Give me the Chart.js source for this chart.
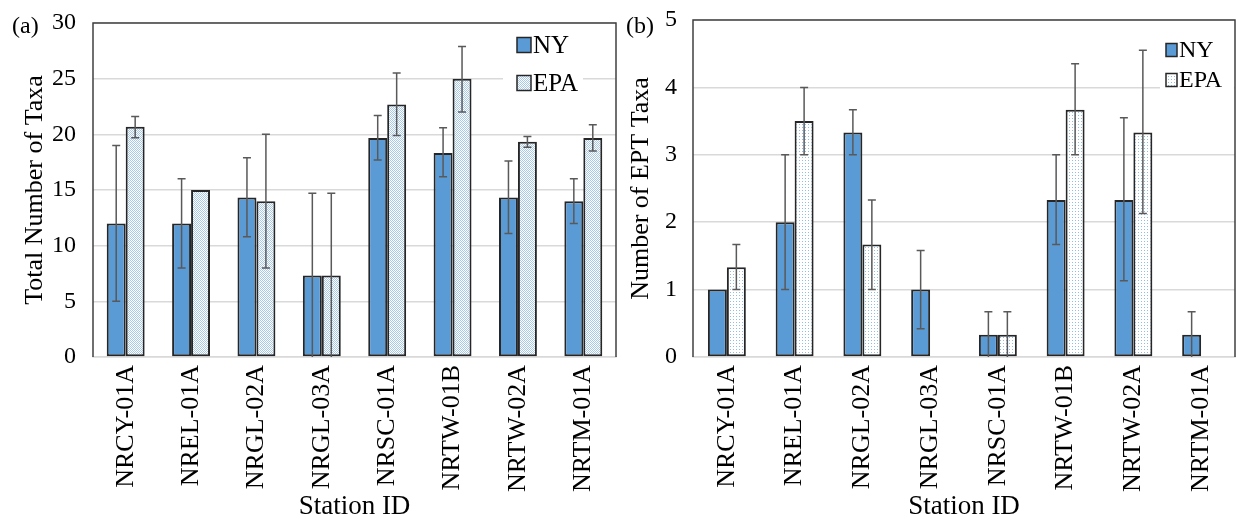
<!DOCTYPE html>
<html>
<head>
<meta charset="utf-8">
<script src="https://cdn.jsdelivr.net/npm/chart.js@4.4.0/dist/chart.umd.min.js"></script>
<style>
  html, body { margin: 0; padding: 0; background: #fff; }
  #wrap { position: relative; width: 1236px; height: 523px; overflow: hidden; }
  .box { position: absolute; top: 0; width: 618px; height: 523px; }
  #boxA { left: 0; }
  #boxB { left: 618px; }
  .tag { position: absolute; top: 13px; font: 24px/24px 'Liberation Serif', 'Times New Roman', serif; color: #000; }
</style>
</head>
<body>
<div id="wrap">
  <div class="box" id="boxA"><canvas id="chartA"></canvas></div>
  <div class="box" id="boxB"><canvas id="chartB"></canvas></div>
  <div class="tag" style="left:12px">(a)</div>
  <div class="tag" style="left:626px">(b)</div>
</div>
<script>
const stations = ['NRCY-01A', 'NREL-01A', 'NRGL-02A', 'NRGL-03A', 'NRSC-01A', 'NRTW-01B', 'NRTW-02A', 'NRTM-01A'];

// (a) total number of taxa
const totalNY     = [12, 12, 14.33, 7.33, 19.67, 18.33, 14.33, 14];
const totalNYLow  = [5, 8, 10.8, 0, 17.7, 16.2, 11.1, 12];
const totalNYHigh = [19, 16, 17.9, 14.7, 21.7, 20.6, 17.6, 16];
const totalEPA     = [20.67, 15, 14, 7.33, 22.67, 25, 19.33, 19.67];
const totalEPALow  = [19.7, null, 8, 0, 19.9, 22, 18.85, 18.5];
const totalEPAHigh = [21.6, null, 20, 14.7, 25.5, 27.9, 19.8, 20.85];

// (b) number of EPT taxa
const eptNY     = [1, 2, 3.33, 1, 0.33, 2.33, 2.33, 0.33];
const eptNYLow  = [null, 1, 3, 0.42, 0, 1.67, 1.13, 0];
const eptNYHigh = [null, 3, 3.67, 1.58, 0.67, 3, 3.55, 0.67];
const eptEPA     = [1.33, 3.5, 1.67, 0, 0.33, 3.67, 3.33, 0];
const eptEPALow  = [1, 3, 1, null, 0, 3, 2.13, null];
const eptEPAHigh = [1.67, 4, 2.33, null, 0.67, 4.35, 4.55, null];

const seriesNames = ['NY', 'EPA'];
const totalTicks = 5;
const eptTicks = 1;

const serif = "'Liberation Serif', 'Times New Roman', serif";
const nyColor = '#5b9bd5';
const edge = '#262626';
const clear = 'rgba(0,0,0,0)';

function dotPattern(w, h, dots, color) {
  const c = document.createElement('canvas');
  c.width = w; c.height = h;
  const g = c.getContext('2d');
  g.fillStyle = '#fff';
  g.fillRect(0, 0, w, h);
  g.fillStyle = color;
  dots.forEach(d => g.fillRect(d[0], d[1], 1, 1));
  return g.createPattern(c, 'repeat');
}

function errorBars(ranges) {
  return {
    id: 'errorBars',
    afterDatasetsDraw(chart) {
      const ctx = chart.ctx;
      const y = chart.scales.y;
      ctx.save();
      ctx.strokeStyle = '#595959';
      ctx.lineWidth = 1.5;
      ranges.forEach((r, i) => {
        chart.getDatasetMeta(i).data.forEach((bar, j) => {
          if (r[0][j] == null) return;
          const yl = y.getPixelForValue(r[0][j]);
          const yh = y.getPixelForValue(r[1][j]);
          ctx.beginPath();
          ctx.moveTo(bar.x, yl); ctx.lineTo(bar.x, yh);
          ctx.moveTo(bar.x - 4, yh); ctx.lineTo(bar.x + 4, yh);
          if (r[0][j] > 0) { ctx.moveTo(bar.x - 4, yl); ctx.lineTo(bar.x + 4, yl); }
          ctx.stroke();
        });
      });
      ctx.restore();
    }
  };
}

// plot frame + legend inside the plot area
function frameAndLegend(lg) {
  return {
    id: 'frameAndLegend',
    afterDraw(chart) {
      const ctx = chart.ctx;
      const a = chart.chartArea;
      ctx.save();
      ctx.strokeStyle = '#404040';
      ctx.lineWidth = 1.5;
      ctx.beginPath();
      ctx.moveTo(a.left, a.bottom); ctx.lineTo(a.left, a.top);
      ctx.lineTo(a.right, a.top); ctx.lineTo(a.right, a.bottom);
      ctx.stroke();

      ctx.fillStyle = '#fff';
      ctx.fillRect(a.right - lg.clearL, a.top + lg.clearT, lg.clearL - lg.clearR, lg.clearH);

      const bx = a.right - lg.boxOff;
      chart.data.datasets.forEach((ds, i) => {
        const cy = a.top + lg.row1 + i * lg.gap;
        ctx.fillStyle = ds.backgroundColor;
        ctx.fillRect(bx, cy - lg.boxH / 2, lg.boxW, lg.boxH);
        ctx.strokeStyle = edge;
        ctx.lineWidth = 1.5;
        ctx.strokeRect(bx, cy - lg.boxH / 2, lg.boxW, lg.boxH);
        ctx.fillStyle = '#000';
        ctx.font = lg.size + 'px ' + serif;
        ctx.textBaseline = 'middle';
        ctx.textAlign = 'left';
        ctx.fillText(ds.label, bx + lg.boxW + 2, cy + 1);
      });
      ctx.restore();
    }
  };
}

function makeChart(id, cfg) {
  return new Chart(document.getElementById(id), {
    type: 'bar',
    data: {
      labels: stations,
      datasets: [
        { label: seriesNames[0], data: cfg.ny, backgroundColor: nyColor, borderColor: edge, borderWidth: 2, borderSkipped: false },
        { label: seriesNames[1], data: cfg.epa, backgroundColor: cfg.pattern, borderColor: edge, borderWidth: 2, borderSkipped: false }
      ]
    },
    options: {
      responsive: true,
      maintainAspectRatio: false,
      animation: false,
      categoryPercentage: cfg.catPct,
      barPercentage: 1,
      layout: { padding: { top: cfg.padTop, right: cfg.padRight, left: 0, bottom: 0 } },
      plugins: { legend: { display: false }, tooltip: { enabled: false } },
      scales: {
        x: {
          // invisible tick marks give the gap under the axis
          grid: { display: true, drawOnChartArea: false, drawTicks: true, tickLength: 8, tickColor: clear },
          border: { display: true, color: '#d9d9d9', width: 1.5 },
          ticks: { autoSkip: false, maxRotation: 90, minRotation: 90, padding: 0, color: '#000', font: { family: serif, size: 26 } },
          title: { display: true, text: 'Station ID', color: '#000', font: { family: serif, size: 27 }, padding: 0 },
          afterFit(s) { s.height = 166; }
        },
        y: {
          min: 0,
          max: cfg.max,
          grid: { color: '#d9d9d9', lineWidth: 1.5, drawTicks: true, tickLength: cfg.tickPad, tickColor: clear },
          border: { display: false },
          ticks: { stepSize: cfg.step, padding: 0, color: '#000', font: { family: serif, size: 24 } },
          title: { display: true, text: cfg.yTitle, color: '#000', font: { family: serif, size: 26 }, padding: { top: cfg.titlePad, bottom: 0 } },
          afterFit(s) { s.width = cfg.yWidth; }
        }
      }
    },
    plugins: [errorBars(cfg.ranges), frameAndLegend(cfg.legend)]
  });
}

makeChart('chartA', {
  ny: totalNY, epa: totalEPA,
  ranges: [[totalNYLow, totalNYHigh], [totalEPALow, totalEPAHigh]],
  pattern: dotPattern(2, 2, [[0, 0], [1, 1]], '#a9c9ea'),
  catPct: 0.58, max: 30, step: totalTicks,
  padTop: 23, padRight: 2, yWidth: 93, tickPad: 17, titlePad: 20,
  yTitle: 'Total Number of Taxa',
  legend: { boxOff: 99, boxW: 14, boxH: 15, row1: 22, gap: 38, size: 25, clearL: 113, clearR: 33, clearT: 5, clearH: 75 }
});

makeChart('chartB', {
  ny: eptNY, epa: eptEPA,
  ranges: [[eptNYLow, eptNYHigh], [eptEPALow, eptEPAHigh]],
  pattern: dotPattern(3, 3, [[1, 1]], '#8fbce8'),
  catPct: 0.56, max: 5, step: eptTicks,
  padTop: 20, padRight: 1, yWidth: 75, tickPad: 16, titlePad: 8,
  yTitle: 'Number of EPT Taxa',
  legend: { boxOff: 69, boxW: 11, boxH: 13, row1: 30, gap: 30, size: 24, clearL: 75, clearR: 1, clearT: 12, clearH: 63 }
});
</script>
</body>
</html>
